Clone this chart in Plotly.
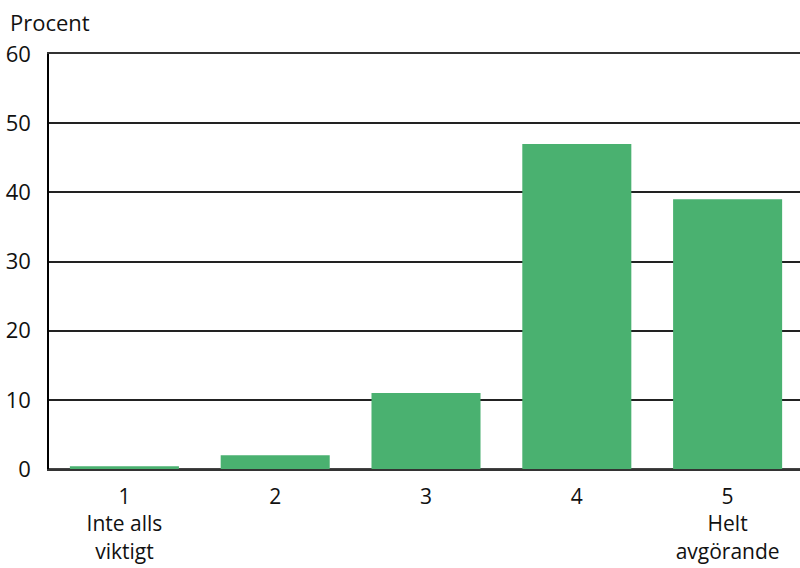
import plotly.graph_objects as go

categories = ["1", "2", "3", "4", "5"]
category_labels = ["1<br>Inte alls<br>viktigt", "2", "3", "4", "5<br>Helt<br>avgörande"]
values = [0.4, 2.0, 11.0, 47.0, 39.0]
y_ticks = [0, 10, 20, 30, 40, 50, 60]

fig = go.Figure()
fig.add_trace(go.Bar(
    x=categories, y=values,
    marker=dict(color="#4AB170", line=dict(width=0)),
))

font = "Open Sans, Lato, DejaVu Sans, sans-serif"
fig.update_layout(
    width=800, height=568,
    margin=dict(l=49, r=0, t=54, b=99),
    plot_bgcolor="white", paper_bgcolor="white",
    bargap=0.277,
    showlegend=False,
    font=dict(family=font, size=22, color="#111"),
    xaxis=dict(
        type="category", automargin=False,
        tickmode="array", tickvals=categories, ticktext=category_labels,
        range=[-0.5, 4.48],
        showgrid=False, zeroline=False,
        showline=True, mirror=True, linecolor="#333", linewidth=1.5,
        ticks="", ticklabelstandoff=8,
        tickfont=dict(size=21, color="#111"),
    ),
    yaxis=dict(
        range=[0, 60], tickvals=y_ticks, automargin=False,
        showgrid=True, gridcolor="#222", gridwidth=1.5,
        zeroline=True, zerolinecolor="#444", zerolinewidth=1.5,
        showline=True, linecolor="#000", linewidth=1.5,
        ticks="", ticklabelstandoff=12,
        tickfont=dict(size=22, color="#111"),
    ),
    annotations=[dict(
        text="Procent", xref="paper", yref="paper",
        x=-49/751, y=1 + 32/415, xanchor="left", yanchor="middle",
        showarrow=False, font=dict(size=22, color="#111"),
        xshift=8,
    )],
)

fig.write_html("out.html")
